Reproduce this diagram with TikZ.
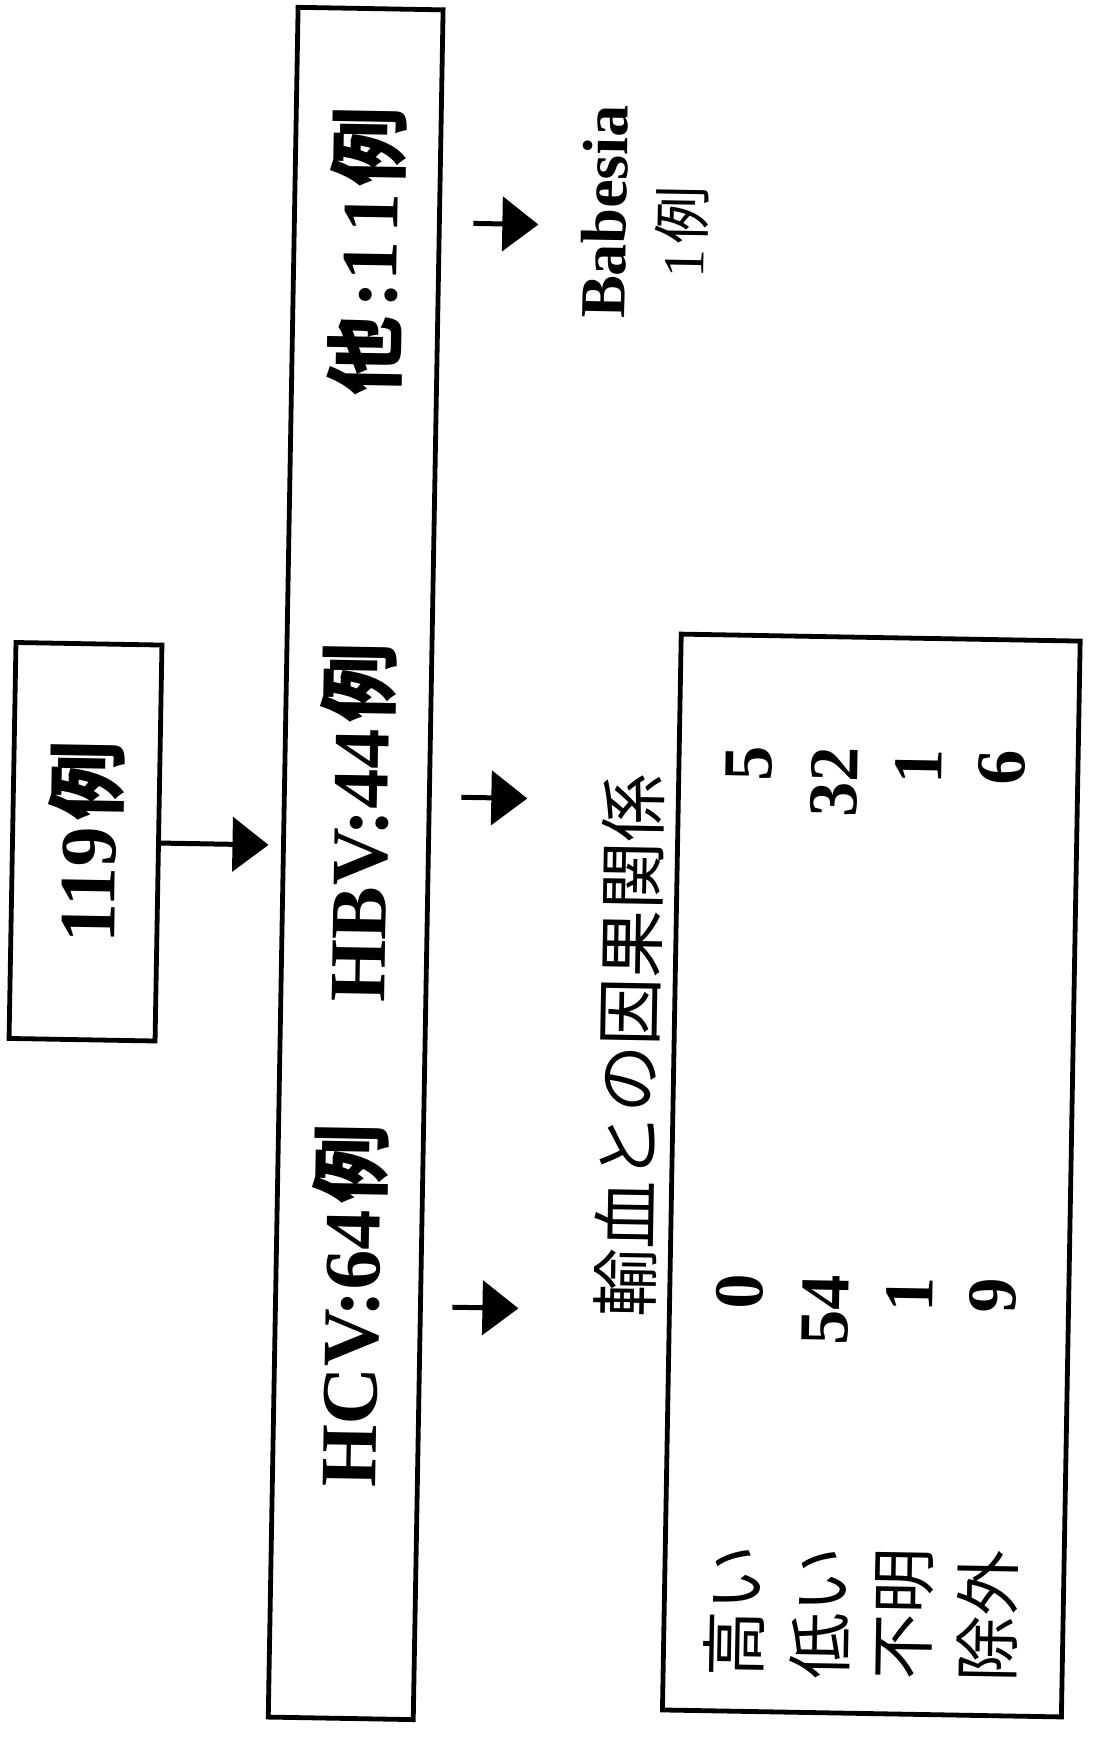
\documentclass[tikz,border=0pt]{standalone}
\usepackage{fontspec}
\setmainfont{Liberation Serif}
\newfontfamily\jp{Noto Sans CJK JP}
\usetikzlibrary{arrows.meta}
\newcommand\rei{\kern0.08em{\jp 例}}
\begin{document}
\begin{tikzpicture}[x=0.5pt,y=-0.5pt,
  box/.style={draw, line width=2.4pt, inner sep=0pt},
  arr/.style={line width=2.5pt, -{Triangle[length=18pt,width=27pt]}},
  big/.style={rotate=90, inner sep=0pt, font=\fontsize{40pt}{40pt}\selectfont\bfseries},
  rowlab/.style={rotate=90, inner sep=0pt, font=\jp\fontsize{33pt}{33pt}\selectfont},
  num/.style={rotate=90, anchor=east, inner sep=0pt, font=\fontsize{35pt}{35pt}\selectfont\bfseries}]
\fill[white] (0,0) rectangle (1117,1749);
\useasboundingbox (0,0) rectangle (1117,1749);
\begin{scope}[rotate around={-1:(558,875)}, transform shape]
  % boxes
  \node[box, rotate=90, minimum width=198pt, minimum height=73pt,
        font=\fontsize{40pt}{40pt}\selectfont\bfseries] (total) at (85,850) {119\rei};
  \node[box, minimum width=72.5pt, minimum height=855pt] (cases) at (355.5,867) {};
  \node[box, minimum width=199.5pt, minimum height=538pt] (result) at (876.5,1170) {};
  % arrow from total to cases
  \coordinate (a0) at (268,850);
  \draw[arr] (total) -- (a0);
  % labels in the big box
  \node[big] (hcv) at (356,1309) {HCV:64\rei};
  \node[big] (hbv) at (356,826) {HBV:44\rei};
  \node[big] (oth) at (356,255) {{\jp 他}\kern0.1em:1\kern0.1em1\rei};
  % arrows out of the big box
  \coordinate (s1) at (460,1309); \coordinate (t1) at (526,1309);
  \coordinate (s2) at (460,799);  \coordinate (t2) at (526,799);
  \coordinate (s3) at (462,225);  \coordinate (t3) at (527,225);
  \draw[arr] (s1) -- (t1);
  \draw[arr] (s2) -- (t2);
  \draw[arr] (s3) -- (t3);
  % Babesia
  \node[rotate=90, inner sep=0pt, font=\fontsize{32pt}{32pt}\selectfont\bfseries] (bab) at (593,211) {Babesia};
  \node[rotate=90, inner sep=0pt, font=\fontsize{29pt}{29pt}\selectfont] (babn) at (671,230) {1\rei};
  % title of the result box
  \node[rotate=90, inner sep=0pt, font=\jp\fontsize{34pt}{34pt}\selectfont] (title) at (632,1044) {輸血との因果関係};
  % row labels
  \node[rowlab] (r1) at (747,1608) {高い};
  \node[rowlab] (r2) at (833,1608) {低い};
  \node[rowlab] (r3) at (917,1608) {不明};
  \node[rowlab] (r4) at (1000,1608) {除外};
  % HCV column
  \node[num] (c1) at (747,1270) {0};
  \node[num] (c2) at (833,1270) {54};
  \node[num] (c3) at (917,1270) {1};
  \node[num] (c4) at (1000,1270) {9};
  % HBV column
  \node[num] (b1) at (747,742) {5};
  \node[num] (b2) at (833,742) {32};
  \node[num] (b3) at (917,742) {1};
  \node[num] (b4) at (1000,742) {6};
\end{scope}
\end{tikzpicture}
\end{document}
